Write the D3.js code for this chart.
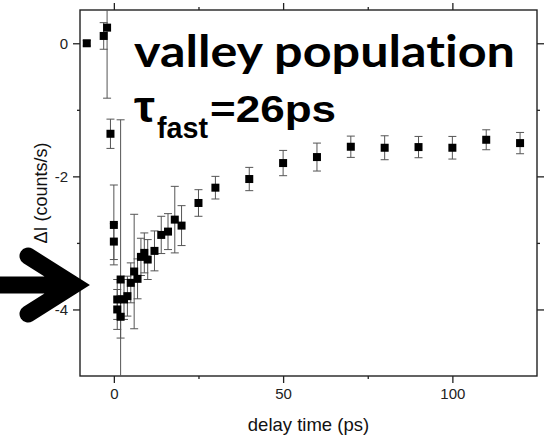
<!DOCTYPE html>
<html>
<head>
<meta charset="utf-8">
<script src="https://cdn.jsdelivr.net/npm/d3@7"></script>
<style>
  body { margin: 0; background: #fff; }
  text { font-family: "Liberation Sans", Arial, sans-serif; font-variant-ligatures: none; }
</style>
</head>
<body>
<div id="chart"></div>
<script>
// delay time (ps), signal and error bar half-widths
const delays = [-8, -3, -2, -1, 0, 0, 1, 1, 2, 2, 3, 4, 5, 6, 7, 8, 9, 10, 12, 14, 16, 18, 20, 25, 30, 40, 50, 60, 70, 80, 90, 100, 110, 120];
const signal = [0.0, 0.11, 0.235, -1.36, -2.73, -2.98, -3.85, -4.0, -3.55, -4.11, -3.85, -3.8, -3.6, -3.43, -3.54, -3.21, -3.15, -3.25, -3.12, -2.88, -2.83, -2.65, -2.74, -2.4, -2.17, -2.04, -1.8, -1.71, -1.555, -1.57, -1.56, -1.57, -1.45, -1.5];
const errors = [0.04, 0.2, 1.06, 0.22, 0.6, 0.27, 0.3, 0.3, 2.4, 0.32, 0.3, 0.3, 0.3, 0.86, 0.3, 0.28, 0.3, 0.3, 0.3, 0.28, 0.27, 0.5, 0.3, 0.2, 0.17, 0.175, 0.19, 0.21, 0.16, 0.18, 0.16, 0.17, 0.15, 0.16];

const xMajor = [0, 50, 100];
const xMinor = [25, 75];
const yMajor = [0, -2, -4];
const yMinor = [-1, -3];

const width = 546;
const height = 438;
const margin = { top: 10, right: 9, bottom: 62, left: 80 };

const svg = d3
  .select("#chart")
  .append("svg")
  .attr("width", width)
  .attr("height", height);

const x = d3
  .scaleLinear()
  .domain([-10, 125])
  .range([margin.left, width - margin.right]);

const y = d3
  .scaleLinear()
  .domain([-5, 0.5])
  .range([height - margin.bottom, margin.top]);

const points = delays.map((d, i) => ({ t: d, v: signal[i], e: errors[i] }));

svg
  .append("clipPath")
  .attr("id", "clip")
  .append("rect")
  .attr("x", margin.left)
  .attr("y", margin.top)
  .attr("width", width - margin.left - margin.right)
  .attr("height", height - margin.top - margin.bottom);

// axes: major ticks long, minor ticks short, all pointing outward
function drawAxis(axisFn, scale, transform, major, minor, labels) {
  const g = svg.append("g").attr("transform", transform);
  g.call(
    axisFn(scale)
      .tickValues(major)
      .tickSize(7)
      .tickPadding(5)
      .tickFormat(labels ? (d) => d3.format("d")(d).replace("−", "-") : "")
  );
  g.append("g").call(axisFn(scale).tickValues(minor).tickSize(3).tickFormat(""));
  g.selectAll(".domain").remove();
  g.selectAll("line").attr("stroke", "#222").attr("stroke-width", 1.3);
  g.selectAll("text")
    .attr("font-size", 15)
    .attr("fill", "#222")
    .style("font-family", '"Liberation Sans", Arial, sans-serif');
  return g;
}

drawAxis(d3.axisBottom, x, `translate(0,${height - margin.bottom})`, xMajor, xMinor, true);
drawAxis(d3.axisTop, x, `translate(0,${margin.top})`, xMajor, xMinor, false);
drawAxis(d3.axisLeft, y, `translate(${margin.left},0)`, yMajor, yMinor, true);
drawAxis(d3.axisRight, y, `translate(${width - margin.right},0)`, yMajor, yMinor, false);

// frame
svg
  .append("rect")
  .attr("x", margin.left)
  .attr("y", margin.top)
  .attr("width", width - margin.left - margin.right)
  .attr("height", height - margin.top - margin.bottom)
  .attr("fill", "none")
  .attr("stroke", "#222")
  .attr("stroke-width", 1.4);

// error bars
const bars = svg.append("g").attr("clip-path", "url(#clip)");
const capW = 4;

bars
  .selectAll("line.err")
  .data(points)
  .enter()
  .append("line")
  .attr("class", "err")
  .attr("x1", (d) => x(d.t))
  .attr("x2", (d) => x(d.t))
  .attr("y1", (d) => y(d.v + d.e))
  .attr("y2", (d) => y(d.v - d.e))
  .attr("stroke", "#555")
  .attr("stroke-width", 1);

[1, -1].forEach((s) => {
  bars
    .selectAll("line.cap" + s)
    .data(points)
    .enter()
    .append("line")
    .attr("x1", (d) => x(d.t) - capW)
    .attr("x2", (d) => x(d.t) + capW)
    .attr("y1", (d) => y(d.v + s * d.e))
    .attr("y2", (d) => y(d.v + s * d.e))
    .attr("stroke", "#555")
    .attr("stroke-width", 1);
});

// square markers
const sq = 8;
svg
  .selectAll("rect.pt")
  .data(points)
  .enter()
  .append("rect")
  .attr("class", "pt")
  .attr("x", (d) => x(d.t) - sq / 2)
  .attr("y", (d) => y(d.v) - sq / 2)
  .attr("width", sq)
  .attr("height", sq)
  .attr("fill", "#000");

// axis titles
svg
  .append("text")
  .attr("x", (margin.left + width - margin.right) / 2)
  .attr("y", 431)
  .attr("text-anchor", "middle")
  .attr("font-size", 18.5)
  .attr("fill", "#111")
  .text("delay time (ps)");

svg
  .append("text")
  .attr("transform", "translate(47,193) rotate(-90)")
  .attr("text-anchor", "middle")
  .attr("font-size", 18)
  .attr("fill", "#111")
  .text("ΔI (counts/s)");

// annotation
const bold = 'Lato, "Open Sans", sans-serif';
svg
  .append("text")
  .attr("x", 134)
  .attr("y", 67)
  .attr("font-size", 43)
  .attr("font-weight", "bold")
  .attr("textLength", 381)
  .attr("lengthAdjust", "spacingAndGlyphs")
  .style("font-family", bold)
  .text("valley population");

const line2 = svg
  .append("g")
  .style("font-family", bold)
  .attr("font-weight", "bold");
line2
  .append("text")
  .attr("x", 134)
  .attr("y", 122)
  .attr("font-size", 44)
  .attr("textLength", 21)
  .attr("lengthAdjust", "spacingAndGlyphs")
  .text("τ");
line2
  .append("text")
  .attr("x", 157)
  .attr("y", 138)
  .attr("font-size", 30)
  .attr("textLength", 51)
  .attr("lengthAdjust", "spacingAndGlyphs")
  .text("fast");
line2
  .append("text")
  .attr("x", 210)
  .attr("y", 122)
  .attr("font-size", 36)
  .attr("textLength", 126)
  .attr("lengthAdjust", "spacingAndGlyphs")
  .text("=26ps");

// big arrow pointing at the minimum
svg
  .append("path")
  .attr("d", "M-10,285 L74,285 M28,256 L74,285 L28,314")
  .attr("fill", "none")
  .attr("stroke", "#000")
  .attr("stroke-width", 17)
  .attr("stroke-linecap", "round")
  .attr("stroke-linejoin", "miter")
  .attr("stroke-miterlimit", 10);
</script>
</body>
</html>
